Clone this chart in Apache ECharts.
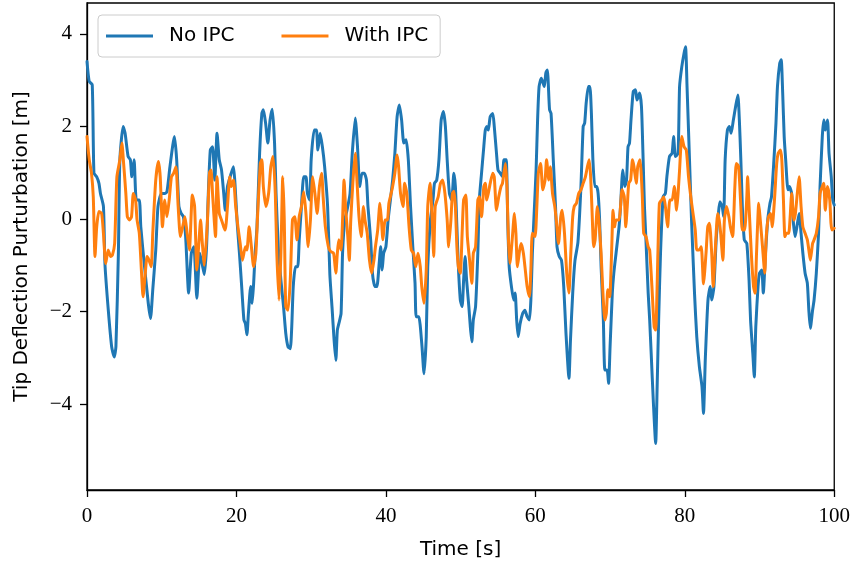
<!DOCTYPE html>
<html>
<head>
<meta charset="utf-8">
<script src="https://cdn.jsdelivr.net/npm/echarts@6/dist/echarts.min.js"></script>
<style>
html,body{margin:0;padding:0;background:#fff;}
#chart{width:853px;height:565px;}
</style>
</head>
<body>
<div id="chart"></div>
<script>
const seriesNames = ['No IPC', 'With IPC'];
const xTicks = [0, 20, 40, 60, 80, 100];
const yTicks = [-4, -2, 0, 2, 4];

const noIpcT = [0,0.3,0.7,0.93,1.3,1.6,1.8,2.2,2.4,2.85,3.3,3.64,3.87,4.2,4.4,4.84,5.1,5.5,5.8,6.0,6.3,6.6,7.0,7.2,7.7,8.2,8.5,8.8,9.2,9.5,9.96,10.4,10.7,11.1,11.7,12.0,12.3,12.6,12.9,13.2,13.6,13.96,14.3,14.7,15.1,15.4,15.7,16.0,16.2,16.5,16.8,17.1,17.4,17.7,18.0,18.3,18.5,18.8,19.3,19.6,19.8,20.1,20.4,20.7,21.0,21.2,21.4,21.6,21.9,22.1,22.3,22.5,22.75,23.1,23.4,23.6,23.9,24.2,24.5,24.8,25.1,25.3,25.6,25.95,26.3,26.6,26.9,27.2,27.4,27.6,27.9,28.2,28.4,28.7,29.0,29.3,29.5,29.8,30.0,30.4,30.7,30.9,31.2,31.5,31.8,32.2,32.5,32.8,33.07,33.3,33.5,33.7,34.0,34.2,34.5,34.8,35.2,35.5,35.9,36.2,36.5,36.8,37.1,37.4,37.6,37.96,38.2,38.4,38.6,38.8,39.1,39.3,39.5,39.7,40.0,40.3,40.6,40.9,41.2,41.5,41.8,42.1,42.4,42.7,43.0,43.3,43.6,43.9,44.05,44.4,44.8,45.1,45.4,45.6,45.96,46.3,46.5,46.8,47.1,47.4,47.7,47.96,48.2,48.5,48.8,49.1,49.3,49.5,49.7,49.96,50.2,50.4,50.6,50.8,51.1,51.3,51.5,51.7,52.0,52.3,52.5,52.8,53.1,53.3,53.5,53.7,53.96,54.3,54.5,54.8,55.0,55.3,55.6,55.8,56.1,56.3,56.5,56.8,57.1,57.3,57.5,57.7,57.96,58.3,58.6,58.9,59.2,59.4,59.6,59.8,60.1,60.3,60.5,60.8,61.2,61.4,61.6,61.9,62.1,62.4,62.7,62.9,63.2,63.5,63.8,64.1,64.5,64.7,65.0,65.3,65.7,66.1,66.4,66.6,66.8,67.1,67.3,67.5,67.7,67.96,68.2,68.4,68.6,68.8,69.1,69.3,69.6,69.8,70.0,70.3,70.5,70.8,71.2,71.4,71.7,71.96,72.2,72.4,72.6,72.8,73.1,73.4,73.6,73.95,74.2,74.4,74.6,74.8,75.1,75.3,75.5,75.8,76.1,76.3,76.5,76.75,77.1,77.4,77.6,77.95,78.3,78.5,78.75,79.1,79.3,79.6,79.9,80.1,80.3,80.6,80.9,81.3,81.6,81.95,82.3,82.5,82.75,83.1,83.4,83.6,83.9,84.2,84.5,84.7,85.0,85.2,85.4,85.7,85.96,86.2,86.5,86.8,87.1,87.3,87.5,87.7,87.96,88.3,88.6,88.8,89.1,89.3,89.5,89.8,90.0,90.3,90.5,90.8,91.1,91.4,91.6,91.9,92.2,92.4,92.7,92.9,93.1,93.3,93.5,93.8,94.0,94.3,94.5,94.76,95.0,95.3,95.56,95.8,96.1,96.4,96.6,96.8,97.1,97.3,97.6,97.9,98.1,98.4,98.6,98.8,99.1,99.3,99.6,99.8,100];
const noIpcV = [3.4,2.97,2.9,0.99,0.91,0.77,0.55,0.27,-0.96,-1.97,-2.76,-2.98,-2.76,-0.74,1.28,2.0,1.85,1.35,1.28,0.91,1.28,0.41,0.41,-0.17,-1.03,-1.82,-2.15,-1.53,-0.67,0.27,0.55,0.55,0.59,1.13,1.78,1.28,0.27,0.12,0.05,-0.38,-1.6,-0.74,-0.6,-1.71,-0.74,-0.96,-1.2,-0.6,0.4,1.49,1.56,0.84,1.85,1.28,1.06,0.55,0.19,0.7,0.99,1.13,0.77,-0.09,-0.74,-1.46,-2.18,-2.26,-2.5,-2.04,-1.46,-1.82,-1.39,-0.74,-0.17,1.42,2.28,2.36,2.07,1.64,2.14,2.37,1.64,0.55,-0.6,-1.32,-1.89,-2.47,-2.76,-2.8,-2.33,-1.46,-1.03,-1.03,-0.45,0.27,0.91,0.91,0.55,0.41,1.28,1.92,1.92,1.49,1.85,1.56,1.13,0.27,-1.2,-1.93,-2.62,-3.05,-2.4,-2.26,-2.04,-0.74,-0.02,0.19,0.55,1.42,2.18,1.56,0.7,0.99,0.99,0.84,0.27,-0.45,-1.17,-1.39,-1.46,-1.46,-0.96,-0.6,-1.1,-0.74,-0.6,-0.02,0.41,0.84,1.42,2.21,2.46,2.14,1.64,1.71,1.28,0.27,-0.6,-1.39,-2.11,-2.11,-2.69,-3.34,-2.54,-1.03,-0.02,0.41,0.77,0.84,1.28,2.14,2.32,2.0,1.28,0.55,0.41,0.99,0.7,-0.17,-1.03,-1.75,-1.89,-1.32,-0.81,-1.32,-1.89,-2.33,-2.65,-2.18,-1.89,-0.74,0.41,0.99,1.56,1.92,2.0,1.92,2.21,2.28,2.0,1.42,1.06,0.99,0.91,1.28,1.28,-0.02,-1.03,-1.46,-1.75,-1.6,-2.18,-2.54,-2.26,-2.04,-1.97,-2.11,-2.18,-1.75,-0.74,-0.02,1.06,2.14,2.86,3.04,2.86,3.15,3.22,2.36,2.28,1.28,0.27,-0.6,-0.81,-0.89,-1.46,-2.47,-3.44,-2.62,-1.6,-0.9,-0.5,0.7,2.0,2.07,2.5,2.86,2.86,2.28,1.28,0.7,0.7,0.55,-0.02,-1.03,-2.18,-3.26,-3.26,-3.55,-2.76,-1.6,-1.17,-0.74,-0.17,0.27,1.06,0.7,0.84,1.56,1.64,2.14,2.75,2.79,2.57,2.72,2.43,1.42,0.27,-0.45,-1.6,-2.18,-2.9,-3.98,-4.85,-3.62,-2.18,-0.74,0.48,0.55,0.91,1.35,1.42,1.78,1.35,1.42,2.86,3.29,3.58,3.72,2.86,1.42,-0.02,-1.6,-2.54,-3.19,-3.62,-4.2,-3.0,-1.75,-1.46,-1.75,-1.46,-0.45,0.12,0.37,0.27,0.05,1.28,1.92,2.0,1.85,2.14,2.43,2.68,2.14,1.28,0.27,-0.45,-0.53,-1.32,-2.18,-2.9,-3.41,-2.33,-1.46,-1.17,-1.1,-1.6,-0.74,-0.02,0.34,0.48,1.2,2.07,2.86,3.36,3.44,2.72,1.78,1.28,0.63,0.7,0.55,-0.02,-0.38,-0.17,0.12,-0.31,-0.74,-1.17,-1.39,-1.97,-2.36,-1.97,-1.75,-1.17,-0.31,0.7,1.78,2.14,1.92,2.14,1.42,0.91,0.41,0.3];

const withIpcT = [0,0.3,0.6,0.84,1.07,1.3,1.6,1.96,2.2,2.5,2.84,3.16,3.4,3.7,4.0,4.4,4.67,4.9,5.2,5.4,5.7,5.96,6.2,6.5,6.7,7.0,7.3,7.5,7.8,8.04,8.3,8.6,8.8,9.2,9.56,9.8,10.1,10.4,10.7,11.0,11.3,11.6,11.9,12.2,12.5,12.8,13.1,13.4,13.7,14.1,14.4,14.7,15.0,15.2,15.4,15.7,16.1,16.4,16.6,16.8,17.2,17.4,17.7,18.0,18.3,18.5,18.8,19.1,19.3,19.6,19.9,20.2,20.5,20.8,21.2,21.4,21.7,22.0,22.3,22.6,22.8,23.2,23.4,23.6,23.95,24.3,24.6,24.9,25.2,25.4,25.7,25.95,26.2,26.4,26.6,26.9,27.2,27.5,27.8,28.1,28.4,28.7,29.0,29.3,29.6,29.9,30.2,30.5,30.8,31.1,31.4,31.6,31.9,32.3,32.6,33.0,33.3,33.5,33.7,34.0,34.2,34.4,34.6,34.9,35.1,35.3,35.6,35.9,36.1,36.4,36.7,37.0,37.2,37.5,37.8,38.1,38.4,38.6,38.9,39.2,39.4,39.6,39.9,40.2,40.4,40.7,40.9,41.2,41.5,41.7,41.96,42.3,42.5,42.8,43.1,43.4,43.7,44.0,44.3,44.6,44.8,45.1,45.4,45.6,45.9,46.2,46.4,46.6,47.0,47.3,47.6,47.9,48.2,48.4,48.7,48.9,49.1,49.3,49.5,49.7,49.96,50.2,50.4,50.7,50.9,51.2,51.5,51.7,52.0,52.3,52.5,52.8,53.1,53.3,53.5,53.7,53.96,54.3,54.5,54.8,55.1,55.4,55.6,56.0,56.2,56.4,56.6,56.9,57.2,57.4,57.6,57.9,58.1,58.4,58.7,58.9,59.2,59.4,59.6,59.96,60.2,60.4,60.7,61.0,61.3,61.5,61.8,62.0,62.3,62.6,62.8,63.1,63.4,63.6,63.9,64.2,64.5,64.7,65.0,65.2,65.5,65.8,66.1,66.4,66.7,66.97,67.2,67.4,67.6,67.8,68.0,68.3,68.5,68.8,69.0,69.3,69.5,69.7,69.95,70.2,70.4,70.6,70.8,71.2,71.4,71.6,71.9,72.1,72.3,72.5,72.75,73.0,73.2,73.5,73.7,74.0,74.3,74.5,74.8,75.1,75.3,75.6,75.9,76.1,76.4,76.6,76.9,77.2,77.5,77.7,78.0,78.3,78.6,78.9,79.1,79.3,79.6,79.9,80.2,80.5,80.8,81.1,81.4,81.6,81.9,82.2,82.5,82.84,83.07,83.3,83.6,83.8,84.1,84.4,84.6,84.8,85.1,85.3,85.6,85.9,86.1,86.4,86.7,86.9,87.2,87.5,87.7,88.0,88.3,88.4,88.6,88.9,89.2,89.4,89.6,89.9,90.1,90.4,90.7,90.9,91.2,91.5,91.7,92.0,92.3,92.5,92.8,92.98,93.2,93.4,93.6,93.9,94.1,94.3,94.6,94.8,95.1,95.3,95.56,95.8,96.1,96.4,96.6,96.8,97.1,97.3,97.6,97.9,98.1,98.4,98.6,98.8,99.1,99.4,99.56,99.7,100];
const withIpcV = [1.78,1.28,0.99,0.48,-0.81,-0.17,0.16,0.12,-0.31,-0.96,-0.67,-0.81,-0.78,-0.53,0.91,1.28,1.64,1.2,0.55,0.05,-0.02,0.05,0.55,0.41,-0.02,-0.31,-1.17,-1.68,-1.17,-0.81,-0.89,-1.03,-0.31,0.84,1.24,0.91,-0.17,0.41,0.05,0.41,0.91,0.99,1.13,0.27,-0.38,-0.17,0.05,-0.31,-0.67,0.52,0.27,-1.1,-0.45,-0.02,-0.45,-1.0,-0.1,1.0,1.06,0.55,-0.38,0.91,0.12,-0.02,-0.17,-0.24,0.27,0.91,0.7,0.84,0.27,-0.17,-0.53,-0.89,-0.6,-0.67,-0.17,-0.6,-1.03,-0.74,-0.02,1.2,1.28,0.7,0.27,0.55,1.13,1.35,0.55,-0.74,-1.75,-0.74,0.91,-0.02,-1.89,-1.97,-1.32,-0.02,0.05,-0.45,0.05,0.27,0.59,0.12,-0.6,-0.02,0.91,0.55,0.12,0.7,0.99,0.48,-0.17,-0.6,-0.7,-0.74,-1.17,-0.74,-0.45,-0.67,-0.02,0.84,0.27,-0.38,-0.89,-0.02,0.84,1.42,0.91,0.05,-0.38,0.27,-0.02,-0.31,-0.89,-1.17,-0.89,-0.6,-0.24,0.34,-0.02,-0.45,-0.02,-0.02,0.34,0.55,0.7,0.99,1.38,1.13,0.55,0.27,0.77,0.55,-0.17,-0.67,-0.74,-1.03,-0.74,-1.03,-1.46,-1.82,-1.1,0.27,0.77,-0.02,-0.81,0.27,0.48,0.77,0.84,0.55,-0.02,-0.6,-0.02,0.55,0.6,0.27,-0.6,-1.03,-1.17,-0.31,0.41,0.52,-0.38,-0.89,-1.39,-0.74,-0.6,0.41,0.48,0.05,0.7,0.77,0.41,0.55,0.77,0.99,0.91,0.19,0.48,0.7,0.77,1.2,0.7,-0.45,-0.96,-0.45,0.12,-0.31,-1.03,-0.67,-0.53,-0.74,-1.17,-1.46,-1.68,-1.1,-0.31,-0.38,0.27,0.99,1.2,0.63,0.84,1.28,0.84,1.13,0.55,0.27,-0.02,-0.53,0.05,0.19,-0.31,-1.17,-1.6,-0.89,0.05,0.27,0.34,0.55,0.63,0.77,0.91,1.13,1.28,0.91,0.12,-0.6,-0.45,0.27,-0.02,-0.74,-1.46,-2.18,-2.04,-1.53,-1.68,-0.74,0.19,-0.17,-0.02,-0.02,0.27,0.63,0.48,-0.17,0.27,0.77,0.84,1.28,1.13,0.77,1.13,1.28,0.55,-0.31,-0.38,-0.6,-0.67,-1.46,-2.33,-2.4,-0.74,0.34,0.41,0.48,0.12,-0.17,0.41,0.41,0.7,0.19,0.55,1.06,1.78,1.56,1.49,0.91,0.48,0.12,-0.24,-0.67,-0.67,-0.6,-1.4,-0.74,-0.17,-0.09,-0.74,-1.46,-0.6,0.12,-0.02,-0.31,-0.89,-0.02,0.27,0.05,-0.17,-0.38,0.7,1.2,1.13,0.27,-0.24,-0.24,0.48,0.91,0.27,-0.74,-1.46,-1.6,-0.74,0.34,-0.02,-0.6,-1.17,-0.38,0.05,0.12,-0.17,0.41,1.2,1.42,1.49,1.28,0.41,-0.38,-0.31,-0.31,0.05,0.55,-0.02,0.12,0.63,0.91,0.27,-0.17,-0.31,-0.45,-0.67,-0.89,-0.53,-0.45,-0.31,0.05,0.55,0.7,0.77,0.19,0.7,0.41,-0.09,-0.24,-0.2];

const zip = (t, v) => t.map((x, i) => [x, v[i]]);
const fmt = v => (v < 0 ? '\u2212' + Math.abs(v) : String(v));

const chart = echarts.init(document.getElementById('chart'), null, {renderer: 'canvas'});
chart.setOption({
  animation: false,
  backgroundColor: '#ffffff',
  grid: {
    left: 87, right: 16, top: 3, bottom: 75,
    show: true, borderColor: '#000', borderWidth: 1.3, backgroundColor: 'transparent'
  },
  legend: {
    left: 98, top: 15,
    padding: [11, 12, 11, 8],
    itemGap: 47,
    itemWidth: 47, itemHeight: 3,
    icon: 'rect',
    backgroundColor: 'rgba(255,255,255,0.8)',
    borderColor: '#cccccc', borderWidth: 1, borderRadius: 4,
    textStyle: {fontFamily: 'DejaVu Sans', fontSize: 20, color: '#000', padding: [0, 0, 0, 11]},
    data: seriesNames
  },
  xAxis: {
    type: 'value', min: 0, max: 100, interval: 20,
    name: 'Time [s]', nameLocation: 'middle', nameGap: 50,
    nameTextStyle: {fontFamily: 'DejaVu Sans', fontSize: 20, color: '#000'},
    axisLine: {show: true, onZero: false, lineStyle: {color: '#000', width: 1.3}},
    axisTick: {show: true, length: 7, lineStyle: {color: '#000', width: 1.3}},
    axisLabel: {fontFamily: 'Liberation Serif', fontSize: 21, color: '#000', margin: 16,
      customValues: xTicks, formatter: fmt},
    splitLine: {show: false}
  },
  yAxis: {
    type: 'value', min: -5.853, max: 4.665,
    name: 'Tip Deflection Purturbation [m]', nameLocation: 'middle', nameGap: 55,
    nameTextStyle: {fontFamily: 'DejaVu Sans', fontSize: 20, color: '#000'},
    axisLine: {show: true, onZero: false, lineStyle: {color: '#000', width: 1.3}},
    axisTick: {show: true, length: 7, customValues: yTicks, lineStyle: {color: '#000', width: 1.3}},
    axisLabel: {fontFamily: 'Liberation Serif', fontSize: 21, color: '#000', margin: 15,
      customValues: yTicks, formatter: fmt},
    splitLine: {show: false}
  },
  series: [
    {name: seriesNames[0], type: 'line', data: zip(noIpcT, noIpcV), showSymbol: false,
      symbol: 'none', color: '#1f77b4', lineStyle: {width: 3, color: '#1f77b4', join: 'round', cap: 'round'}, smooth: 0.2, z: 2},
    {name: seriesNames[1], type: 'line', data: zip(withIpcT, withIpcV), showSymbol: false,
      symbol: 'none', color: '#ff7f0e', lineStyle: {width: 3, color: '#ff7f0e', join: 'round', cap: 'round'}, smooth: 0.2, z: 3}
  ]
});
</script>
</body>
</html>
